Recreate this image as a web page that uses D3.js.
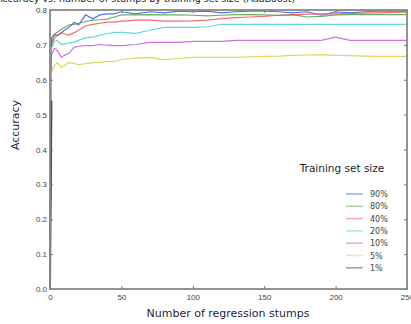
<!DOCTYPE html>
<html>
<head>
<meta charset="utf-8">
<script src="https://cdn.jsdelivr.net/npm/d3@7/dist/d3.min.js"></script>
<style>
  body { margin: 0; background: #fff; }
  svg { display: block; font-family: "DejaVu Sans", sans-serif; }
</style>
</head>
<body>
<svg id="chart" width="411" height="324"></svg>
<script>
// number of stumps at which accuracy was read
const stumps = [0, 1, 3, 5, 8, 10, 13, 17, 20, 25, 30, 35, 40, 45, 50, 60, 70, 80, 90, 100,
  110, 120, 130, 140, 150, 160, 170, 180, 190, 200, 210, 220, 230, 240, 250];

const sizes = ["90%", "80%", "40%", "20%", "10%", "5%", "1%"];
const colors = ["#2b4fe0", "#3f9a3f", "#f04a4a", "#3fd0d0", "#c44fd6", "#d8c83a", "#333322"];

const acc90 = [0, 0.72, 0.73, 0.727, 0.735, 0.742, 0.75, 0.765, 0.757, 0.786, 0.775, 0.786, 0.789, 0.789, 0.795, 0.789, 0.795, 0.792, 0.797, 0.795,
  0.797, 0.792, 0.795, 0.797, 0.797, 0.795, 0.792, 0.795, 0.785, 0.795, 0.792, 0.795, 0.797, 0.797, 0.797];
const acc80 = [0, 0.7, 0.73, 0.736, 0.745, 0.75, 0.757, 0.759, 0.762, 0.767, 0.771, 0.772, 0.774, 0.78, 0.786, 0.786, 0.787, 0.786, 0.786, 0.785,
  0.783, 0.785, 0.787, 0.787, 0.786, 0.785, 0.787, 0.78, 0.782, 0.786, 0.787, 0.787, 0.787, 0.787, 0.787];
const acc40 = [0, 0.7, 0.72, 0.727, 0.735, 0.732, 0.728, 0.735, 0.742, 0.755, 0.759, 0.762, 0.765, 0.765, 0.768, 0.771, 0.771, 0.768, 0.768, 0.769,
  0.771, 0.775, 0.778, 0.78, 0.782, 0.785, 0.786, 0.788, 0.789, 0.789, 0.79, 0.791, 0.792, 0.793, 0.794];
const acc20 = [0, 0.69, 0.71, 0.713, 0.701, 0.703, 0.705, 0.708, 0.713, 0.72, 0.722, 0.728, 0.732, 0.736, 0.736, 0.733, 0.742, 0.75, 0.75, 0.75,
  0.752, 0.759, 0.759, 0.759, 0.759, 0.759, 0.759, 0.759, 0.759, 0.759, 0.759, 0.759, 0.759, 0.759, 0.759];
const acc10 = [0, 0.67, 0.69, 0.684, 0.664, 0.67, 0.675, 0.693, 0.696, 0.698, 0.698, 0.701, 0.699, 0.698, 0.698, 0.701, 0.707, 0.707, 0.707, 0.71,
  0.71, 0.71, 0.713, 0.713, 0.713, 0.713, 0.713, 0.713, 0.713, 0.722, 0.713, 0.713, 0.713, 0.713, 0.713];
const acc5 = [0, 0.62, 0.64, 0.649, 0.635, 0.64, 0.649, 0.647, 0.643, 0.646, 0.649, 0.65, 0.652, 0.652, 0.658, 0.662, 0.664, 0.658, 0.661, 0.664,
  0.664, 0.664, 0.664, 0.666, 0.667, 0.668, 0.67, 0.671, 0.672, 0.67, 0.669, 0.668, 0.667, 0.667, 0.667];
const acc1 = [0, 0.54];

const series = [acc90, acc80, acc40, acc20, acc10, acc5, acc1];

const xTicks = [0, 50, 100, 150, 200, 250];
const yTicks = [0, 0.1, 0.2, 0.3, 0.4, 0.5, 0.6, 0.7, 0.8];

const svg = d3.select("#chart");
const margin = {top: 10, right: 4, bottom: 35, left: 50};
const width = 411 - margin.left - margin.right,
      height = 324 - margin.top - margin.bottom;

const x = d3.scaleLinear().domain([0, 250]).range([0, width]);
const y = d3.scaleLinear().domain([0, 0.8]).range([height, 0]);

// title, mostly above the top edge as in the source image
svg.append("text")
  .attr("x", -4).attr("y", 2)
  .style("font-size", "9.5px")
  .style("fill", "#222")
  .text("Accuracy vs. number of stumps by training set size (AdaBoost)");

const g = svg.append("g").attr("transform", `translate(${margin.left},${margin.top})`);

const line = d3.line()
  .x((d, i) => x(stumps[i]))
  .y(d => y(d));

series.forEach((s, i) => {
  g.append("path")
    .datum(s)
    .attr("fill", "none")
    .attr("stroke", colors[i])
    .attr("stroke-width", i == 6 ? 2 : 1.2)
    .attr("stroke-opacity", 0.8)
    .attr("d", line);
});

// axes, ticks inside like matplotlib
g.append("g")
  .attr("transform", `translate(0,${height})`)
  .call(d3.axisBottom(x).tickValues(xTicks).tickSize(-3).tickPadding(5).tickFormat(d3.format("d")));
g.append("g")
  .call(d3.axisLeft(y).tickValues(yTicks).tickSize(-3).tickPadding(3).tickFormat(d3.format(".1f")));
g.append("g")
  .call(d3.axisTop(x).tickValues(xTicks).tickSize(-3).tickFormat(""));
g.append("g")
  .attr("transform", `translate(${width},0)`)
  .call(d3.axisRight(y).tickValues(yTicks).tickSize(-3).tickFormat(""));

g.selectAll(".domain").remove();
g.selectAll(".tick line").attr("stroke", "#777");
g.selectAll(".tick text").style("font-size", "8px").attr("fill", "#444");

g.append("rect")
  .attr("width", width).attr("height", height)
  .attr("fill", "none")
  .attr("stroke", "#888")
  .attr("stroke-width", 1.8);

// axis labels
svg.append("text")
  .attr("x", 228).attr("y", 317)
  .attr("text-anchor", "middle")
  .style("font-size", "11px")
  .style("fill", "#1e1e40")
  .text("Number of regression stumps");

svg.append("text")
  .attr("transform", "translate(19,125) rotate(-90)")
  .attr("text-anchor", "middle")
  .style("font-size", "11px")
  .style("fill", "#1e1e40")
  .text("Accuracy");

// legend
const legend = svg.append("g");
legend.append("text")
  .attr("x", 342).attr("y", 172)
  .attr("text-anchor", "middle")
  .style("font-size", "10.5px")
  .style("fill", "#222")
  .text("Training set size");

sizes.forEach((s, i) => {
  const ly = 194 + i * 12.3;
  legend.append("line")
    .attr("x1", 346).attr("x2", 363)
    .attr("y1", ly).attr("y2", ly)
    .attr("stroke", colors[i])
    .attr("stroke-width", 1.6)
    .attr("stroke-opacity", 0.45);
  legend.append("text")
    .attr("x", 370).attr("y", ly + 3)
    .style("font-size", "8px")
    .style("fill", "#444")
    .text(s);
});
</script>
</body>
</html>
